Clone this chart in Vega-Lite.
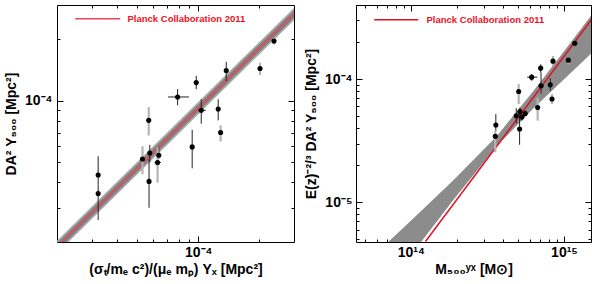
{
  "$schema": "https://vega.github.io/schema/vega-lite/v6.json",
  "padding": {"left": 4, "top": 4, "right": 0, "bottom": 0},
  "spacing": 9,
  "config": {
    "font": "Liberation Sans",
    "view": {"stroke": "black", "strokeWidth": 1},
    "axis": {"grid": false, "domain": false, "labelFont": "Liberation Sans", "labelFontWeight": "bold", "labelFontSize": 14, "labelColor": "black", "titleFont": "Liberation Sans", "titleFontWeight": "bold", "titleFontSize": 14, "titleColor": "black", "tickColor": "black", "tickWidth": 1, "zindex": 2}
  },
  "datasets": {
    "leftPts": [
      {"x": 3.22e-5, "y": 4.34e-5, "ylo": 3.9e-5, "yhi": 5.36e-5, "kind": "stat"},
      {"x": 3.22e-5, "y": 3.52e-5, "ylo": 2.61e-5, "yhi": 3.9e-5, "kind": "stat"},
      {"x": 5.32e-5, "y": 5.2e-5, "ylo": 4.38e-5, "yhi": 6.0e-5, "kind": "sys"},
      {"x": 5.71e-5, "y": 8.04e-5, "ylo": 6.78e-5, "yhi": 9.34e-5, "kind": "sys"},
      {"x": 5.78e-5, "y": 5.56e-5, "ylo": 5.01e-5, "yhi": 6.1e-5, "kind": "stat"},
      {"x": 5.73e-5, "y": 4.04e-5, "ylo": 3.0e-5, "yhi": 5.2e-5, "kind": "stat"},
      {"x": 6.31e-5, "y": 5.0e-5, "ylo": 3.99e-5, "yhi": 5.93e-5, "xlo": 6.1e-5, "xhi": 6.55e-5, "kind": "sys"},
      {"x": 6.4e-5, "y": 5.42e-5, "ylo": 5.2e-5, "yhi": 5.93e-5, "kind": "stat"},
      {"x": 7.92e-5, "y": 1.046e-4, "ylo": 9.52e-5, "yhi": 1.142e-4, "xlo": 7.11e-5, "xhi": 9.0e-5, "kind": "stat"},
      {"x": 9.34e-5, "y": 5.96e-5, "ylo": 4.68e-5, "yhi": 7.22e-5, "kind": "stat"},
      {"x": 9.78e-5, "y": 1.23e-4, "ylo": 1.142e-4, "yhi": 1.328e-4, "kind": "stat"},
      {"x": 1.035e-4, "y": 9.0e-5, "ylo": 7.73e-5, "yhi": 1.02e-4, "xlo": 1.0e-4, "xhi": 1.09e-4, "kind": "stat"},
      {"x": 1.254e-4, "y": 9.13e-5, "ylo": 8.04e-5, "yhi": 1.02e-4, "kind": "stat"},
      {"x": 1.289e-4, "y": 7.01e-5, "ylo": 6.33e-5, "yhi": 7.59e-5, "kind": "sys"},
      {"x": 1.374e-4, "y": 1.41e-4, "ylo": 1.25e-4, "yhi": 1.556e-4, "kind": "stat"},
      {"x": 2.014e-4, "y": 1.443e-4, "ylo": 1.34e-4, "yhi": 1.54e-4, "kind": "sys"},
      {"x": 2.36e-4, "y": 1.967e-4, "ylo": 1.89e-4, "yhi": 2.04e-4, "kind": "sys"}
    ],
    "leftLine": [
      {"x": 2.0e-5, "y": 1.91e-5, "label": "Planck Collaboration 2011"},
      {"x": 3.0e-4, "y": 2.70e-4, "label": "Planck Collaboration 2011"}
    ],
    "leftBand": [
      {"x": 2.0e-5, "lo": 1.78e-5, "hi": 2.05e-5, "lo2": 1.83e-5, "hi2": 1.99e-5},
      {"x": 3.0e-4, "lo": 2.52e-4, "hi": 2.89e-4, "lo2": 2.59e-4, "hi2": 2.81e-4}
    ],
    "rightPts": [
      {"x": 3.59e14, "y": 4.24e-5, "ylo": 3.8e-5, "yhi": 5.2e-5, "kind": "stat"},
      {"x": 3.56e14, "y": 3.43e-5, "ylo": 2.54e-5, "yhi": 3.8e-5, "kind": "sys"},
      {"x": 4.88e14, "y": 5.04e-5, "ylo": 4.37e-5, "yhi": 5.82e-5, "kind": "stat"},
      {"x": 5.06e14, "y": 7.93e-5, "ylo": 6.27e-5, "yhi": 9.11e-5, "kind": "sys"},
      {"x": 5.16e14, "y": 5.46e-5, "ylo": 5.04e-5, "yhi": 5.88e-5, "kind": "stat"},
      {"x": 5.13e14, "y": 3.94e-5, "ylo": 2.93e-5, "yhi": 5.53e-5, "kind": "stat"},
      {"x": 5.31e14, "y": 4.92e-5, "ylo": 4.6e-5, "yhi": 5.3e-5, "kind": "stat"},
      {"x": 5.58e14, "y": 5.26e-5, "ylo": 5.0e-5, "yhi": 5.6e-5, "kind": "stat"},
      {"x": 6.15e14, "y": 1.038e-4, "ylo": 9.7e-5, "yhi": 1.1e-4, "xlo": 5.75e14, "xhi": 6.69e14, "kind": "stat"},
      {"x": 6.73e14, "y": 5.88e-5, "ylo": 4.6e-5, "yhi": 7.09e-5, "kind": "sys"},
      {"x": 7.04e14, "y": 1.228e-4, "ylo": 1.13e-4, "yhi": 1.32e-4, "kind": "stat"},
      {"x": 7.08e14, "y": 8.82e-5, "ylo": 7.64e-5, "yhi": 1.13e-4, "xlo": 6.8e14, "xhi": 7.4e14, "kind": "stat"},
      {"x": 8.13e14, "y": 8.99e-5, "ylo": 8.04e-5, "yhi": 1.02e-4, "kind": "stat"},
      {"x": 8.35e14, "y": 6.89e-5, "ylo": 6.27e-5, "yhi": 7.56e-5, "kind": "sys"},
      {"x": 8.47e14, "y": 1.40e-4, "ylo": 1.28e-4, "yhi": 1.545e-4, "kind": "sys"},
      {"x": 1.067e15, "y": 1.426e-4, "ylo": 1.32e-4, "yhi": 1.5e-4, "kind": "sys"},
      {"x": 1.175e15, "y": 1.957e-4, "ylo": 1.86e-4, "yhi": 2.04e-4, "kind": "stat"}
    ],
    "rightLine": [
      {"x": 1.247e14, "y": 4.81e-6, "label": "Planck Collaboration 2011"},
      {"x": 1.517e15, "y": 3.06e-4, "label": "Planck Collaboration 2011"}
    ],
    "rightBand": [
      {"x": 5.73e13, "lo": 1.486e-6, "hi": 3.69e-6},
      {"x": 1.046e14, "lo": 3.98e-6, "hi": 7.47e-6},
      {"x": 1.91e14, "lo": 1.059e-5, "hi": 1.522e-5},
      {"x": 3.65e14, "lo": 2.87e-5, "hi": 3.46e-5},
      {"x": 6.37e14, "lo": 5.85e-5, "hi": 8.11e-5},
      {"x": 1.0e15, "lo": 1.0e-4, "hi": 1.683e-4},
      {"x": 1.57e15, "lo": 1.70e-4, "hi": 3.52e-4}
    ]
  },
  "hconcat": [
    {
      "width": 237,
      "height": 237,
      "resolve": {"axis": {"x": "independent", "y": "independent"}},
      "layer": [
        {
          "data": {"name": "leftBand"},
          "mark": {"type": "area", "color": "#a6a6a6", "clip": true},
          "encoding": {
            "x": {"field": "x", "type": "quantitative", "scale": {"type": "log", "domain": [2.02e-5, 2.96e-4], "nice": false, "zero": false},
              "axis": {"orient": "bottom", "values": [0.0001], "labelExpr": "'10⁻⁴'", "ticks": false, "labelPadding": 3, "titlePadding": 3, "title": "(σₜ/mₑ c²)/(μₑ mₚ) Yₓ  [Mpc²]"}},
            "y": {"field": "lo", "type": "quantitative", "scale": {"type": "log", "domain": [2.04e-5, 2.95e-4], "nice": false, "zero": false},
              "axis": {"orient": "left", "values": [0.0001], "labelExpr": "'10⁻⁴'", "ticks": false, "labelPadding": 5, "titlePadding": 6, "title": "DA² Y₅₀₀  [Mpc²]"}},
            "y2": {"field": "hi"}
          }
        },
        {
          "data": {"name": "leftBand"},
          "mark": {"type": "area", "color": "#808080", "clip": true},
          "encoding": {
            "x": {"field": "x", "type": "quantitative", "scale": {"type": "log", "domain": [2.02e-5, 2.96e-4], "nice": false, "zero": false},
              "axis": {"orient": "bottom", "values": [3e-5, 4e-5, 5e-5, 6e-5, 7e-5, 8e-5, 9e-5, 0.0002], "labels": false, "title": null, "tickSize": -3}},
            "y": {"field": "lo2", "type": "quantitative", "scale": {"type": "log", "domain": [2.04e-5, 2.95e-4], "nice": false, "zero": false},
              "axis": {"orient": "left", "values": [3e-5, 4e-5, 5e-5, 6e-5, 7e-5, 8e-5, 9e-5, 0.0002], "labels": false, "title": null, "tickSize": -3}},
            "y2": {"field": "hi2"}
          }
        },
        {
          "data": {"name": "leftLine"},
          "mark": {"type": "line", "strokeWidth": 1.5, "clip": true},
          "encoding": {
            "x": {"field": "x", "type": "quantitative", "scale": {"type": "log", "domain": [2.02e-5, 2.96e-4], "nice": false, "zero": false},
              "axis": {"orient": "top", "values": [3e-5, 4e-5, 5e-5, 6e-5, 7e-5, 8e-5, 9e-5, 0.0002], "labels": false, "title": null, "tickSize": -3}},
            "y": {"field": "y", "type": "quantitative", "scale": {"type": "log", "domain": [2.04e-5, 2.95e-4], "nice": false, "zero": false},
              "axis": {"orient": "right", "values": [3e-5, 4e-5, 5e-5, 6e-5, 7e-5, 8e-5, 9e-5, 0.0002], "labels": false, "title": null, "tickSize": -3}},
            "color": {"field": "label", "type": "nominal", "scale": {"domain": ["Planck Collaboration 2011"], "range": ["#e8485a"]},
              "legend": {"orient": "none", "legendX": 56, "legendY": 9, "title": null, "padding": 0, "symbolType": "M-17,0H1", "symbolSize": 25, "symbolStrokeWidth": 1.5, "symbolFillColor": "transparent", "labelColor": "#ee1122", "labelFontWeight": "bold", "labelFontSize": 9.5, "labelFont": "Liberation Sans", "labelOffset": 5}}
          }
        },
        {
          "data": {"name": "leftPts"},
          "transform": [{"filter": "datum.kind == 'stat'"}],
          "mark": {"type": "rule", "clip": true, "color": "#222222", "strokeWidth": 1},
          "encoding": {
            "x": {"field": "x", "type": "quantitative", "scale": {"type": "log", "domain": [2.02e-5, 2.96e-4], "nice": false, "zero": false},
              "axis": {"orient": "bottom", "values": [0.0001], "labels": false, "title": null, "tickSize": -6}},
            "y": {"field": "ylo", "type": "quantitative", "scale": {"type": "log", "domain": [2.04e-5, 2.95e-4], "nice": false, "zero": false},
              "axis": {"orient": "left", "values": [0.0001], "labels": false, "title": null, "tickSize": -6}},
            "y2": {"field": "yhi"}
          }
        },
        {
          "data": {"name": "leftPts"},
          "transform": [{"filter": "datum.kind == 'sys'"}],
          "mark": {"type": "rule", "clip": true, "color": "#b4b4b4", "strokeWidth": 2.2},
          "encoding": {
            "x": {"field": "x", "type": "quantitative", "scale": {"type": "log", "domain": [2.02e-5, 2.96e-4], "nice": false, "zero": false},
              "axis": {"orient": "top", "values": [0.0001], "labels": false, "title": null, "tickSize": -6}},
            "y": {"field": "ylo", "type": "quantitative", "scale": {"type": "log", "domain": [2.04e-5, 2.95e-4], "nice": false, "zero": false},
              "axis": {"orient": "right", "values": [0.0001], "labels": false, "title": null, "tickSize": -6}},
            "y2": {"field": "yhi"}
          }
        },
        {
          "data": {"name": "leftPts"},
          "transform": [{"filter": "isValid(datum.xlo)"}],
          "mark": {"type": "rule", "clip": true, "color": "#222222", "strokeWidth": 1},
          "encoding": {
            "x": {"field": "xlo", "type": "quantitative", "scale": {"type": "log", "domain": [2.02e-5, 2.96e-4], "nice": false, "zero": false}, "axis": null},
            "x2": {"field": "xhi"},
            "y": {"field": "y", "type": "quantitative", "scale": {"type": "log", "domain": [2.04e-5, 2.95e-4], "nice": false, "zero": false}, "axis": null}
          }
        },
        {
          "data": {"name": "leftPts"},
          "mark": {"type": "point", "filled": true, "color": "black", "opacity": 1, "size": 26, "clip": true},
          "encoding": {
            "x": {"field": "x", "type": "quantitative", "scale": {"type": "log", "domain": [2.02e-5, 2.96e-4], "nice": false, "zero": false}, "axis": null},
            "y": {"field": "y", "type": "quantitative", "scale": {"type": "log", "domain": [2.04e-5, 2.95e-4], "nice": false, "zero": false}, "axis": null}
          }
        }
      ]
    },
    {
      "width": 235,
      "height": 237,
      "resolve": {"axis": {"x": "independent", "y": "independent"}},
      "layer": [
        {
          "data": {"name": "rightBand"},
          "mark": {"type": "area", "color": "#8c8c8c", "clip": true},
          "encoding": {
            "x": {"field": "x", "type": "quantitative", "scale": {"type": "log", "domain": [4.39e13, 1.5e15], "nice": false, "zero": false},
              "axis": {"orient": "bottom", "values": [1e14, 1e15], "labelExpr": "datum.value < 5e14 ? '10¹⁴' : '10¹⁵'", "ticks": false, "labelPadding": 3, "titlePadding": 3, "title": "M₅₀₀ʸˣ [M⊙]"}},
            "y": {"field": "lo", "type": "quantitative", "scale": {"type": "log", "domain": [4.76e-6, 4.0e-4], "nice": false, "zero": false},
              "axis": {"orient": "left", "values": [1e-5, 0.0001], "labelExpr": "datum.value < 5e-5 ? '10⁻⁵' : '10⁻⁴'", "ticks": false, "labelPadding": 4, "titlePadding": 6, "title": "E(z)⁻²/³ DA² Y₅₀₀  [Mpc²]"}},
            "y2": {"field": "hi"}
          }
        },
        {
          "data": {"name": "rightLine"},
          "mark": {"type": "line", "strokeWidth": 1.5, "clip": true},
          "encoding": {
            "x": {"field": "x", "type": "quantitative", "scale": {"type": "log", "domain": [4.39e13, 1.5e15], "nice": false, "zero": false},
              "axis": {"orient": "bottom", "values": [5e13, 6e13, 7e13, 8e13, 9e13, 2e14, 3e14, 4e14, 5e14, 6e14, 7e14, 8e14, 9e14], "labels": false, "title": null, "tickSize": -3}},
            "y": {"field": "y", "type": "quantitative", "scale": {"type": "log", "domain": [4.76e-6, 4.0e-4], "nice": false, "zero": false},
              "axis": {"orient": "left", "values": [5e-6, 6e-6, 7e-6, 8e-6, 9e-6, 2e-5, 3e-5, 4e-5, 5e-5, 6e-5, 7e-5, 8e-5, 9e-5, 0.0002, 0.0003, 0.0004], "labels": false, "title": null, "tickSize": -3}},
            "color": {"field": "label", "type": "nominal", "scale": {"domain": ["Planck Collaboration 2011"], "range": ["#dd1122"]},
              "legend": {"orient": "none", "legendX": 55, "legendY": 10, "title": null, "padding": 0, "symbolType": "M-16.6,0H1", "symbolSize": 25, "symbolStrokeWidth": 1.5, "symbolFillColor": "transparent", "labelColor": "#ee1122", "labelFontWeight": "bold", "labelFontSize": 9.5, "labelFont": "Liberation Sans", "labelOffset": 6}}
          }
        },
        {
          "data": {"name": "rightPts"},
          "transform": [{"filter": "datum.kind == 'stat'"}],
          "mark": {"type": "rule", "clip": true, "color": "#222222", "strokeWidth": 1},
          "encoding": {
            "x": {"field": "x", "type": "quantitative", "scale": {"type": "log", "domain": [4.39e13, 1.5e15], "nice": false, "zero": false},
              "axis": {"orient": "top", "values": [5e13, 6e13, 7e13, 8e13, 9e13, 2e14, 3e14, 4e14, 5e14, 6e14, 7e14, 8e14, 9e14], "labels": false, "title": null, "tickSize": -3}},
            "y": {"field": "ylo", "type": "quantitative", "scale": {"type": "log", "domain": [4.76e-6, 4.0e-4], "nice": false, "zero": false},
              "axis": {"orient": "right", "values": [5e-6, 6e-6, 7e-6, 8e-6, 9e-6, 2e-5, 3e-5, 4e-5, 5e-5, 6e-5, 7e-5, 8e-5, 9e-5, 0.0002, 0.0003, 0.0004], "labels": false, "title": null, "tickSize": -3}},
            "y2": {"field": "yhi"}
          }
        },
        {
          "data": {"name": "rightPts"},
          "transform": [{"filter": "datum.kind == 'sys'"}],
          "mark": {"type": "rule", "clip": true, "color": "#b4b4b4", "strokeWidth": 2.2},
          "encoding": {
            "x": {"field": "x", "type": "quantitative", "scale": {"type": "log", "domain": [4.39e13, 1.5e15], "nice": false, "zero": false},
              "axis": {"orient": "bottom", "values": [1e14, 1e15], "labels": false, "title": null, "tickSize": -6}},
            "y": {"field": "ylo", "type": "quantitative", "scale": {"type": "log", "domain": [4.76e-6, 4.0e-4], "nice": false, "zero": false},
              "axis": {"orient": "left", "values": [1e-5, 0.0001], "labels": false, "title": null, "tickSize": -6}},
            "y2": {"field": "yhi"}
          }
        },
        {
          "data": {"name": "rightPts"},
          "transform": [{"filter": "isValid(datum.xlo)"}],
          "mark": {"type": "rule", "clip": true, "color": "#222222", "strokeWidth": 1},
          "encoding": {
            "x": {"field": "xlo", "type": "quantitative", "scale": {"type": "log", "domain": [4.39e13, 1.5e15], "nice": false, "zero": false},
              "axis": {"orient": "top", "values": [1e14, 1e15], "labels": false, "title": null, "tickSize": -6}},
            "x2": {"field": "xhi"},
            "y": {"field": "y", "type": "quantitative", "scale": {"type": "log", "domain": [4.76e-6, 4.0e-4], "nice": false, "zero": false},
              "axis": {"orient": "right", "values": [1e-5, 0.0001], "labels": false, "title": null, "tickSize": -6}}
          }
        },
        {
          "data": {"name": "rightPts"},
          "mark": {"type": "point", "filled": true, "color": "black", "opacity": 1, "size": 26, "clip": true},
          "encoding": {
            "x": {"field": "x", "type": "quantitative", "scale": {"type": "log", "domain": [4.39e13, 1.5e15], "nice": false, "zero": false}, "axis": null},
            "y": {"field": "y", "type": "quantitative", "scale": {"type": "log", "domain": [4.76e-6, 4.0e-4], "nice": false, "zero": false}, "axis": null}
          }
        }
      ]
    }
  ],
  "resolve": {"scale": {"color": "independent"}, "legend": {"color": "independent"}}
}
